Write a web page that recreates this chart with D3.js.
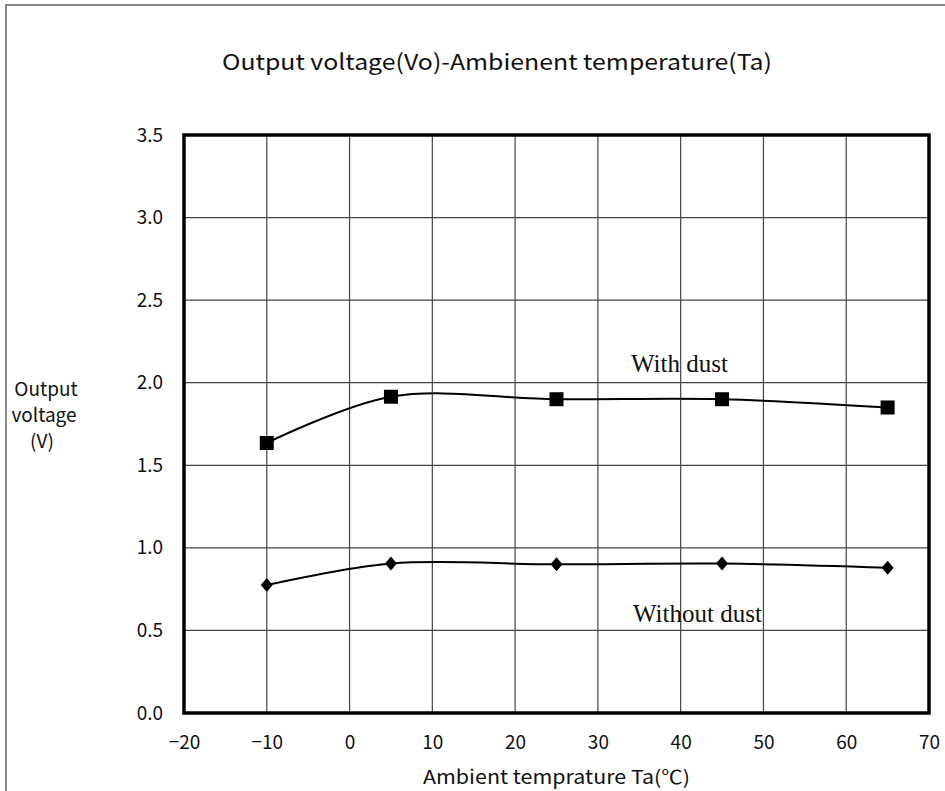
<!DOCTYPE html>
<html><head><meta charset="utf-8">
<script src="https://cdn.jsdelivr.net/npm/d3@7"></script>
<style>body{margin:0;background:#fff}svg{display:block}</style>
</head><body>
<svg id="c" width="945" height="791"></svg>
<script>
const temps = [-10, 5, 25, 45, 65];
const withDust = [1.635, 1.915, 1.90, 1.90, 1.85];
const withoutDust = [0.775, 0.905, 0.90, 0.905, 0.88];
const xTicks = [-20, -10, 0, 10, 20, 30, 40, 50, 60, 70];
const yTicks = [0, 0.5, 1.0, 1.5, 2.0, 2.5, 3.0, 3.5];
const title = "Output voltage(Vo)-Ambienent temperature(Ta)";
const xTitle = "Ambient temprature Ta(\u2103)";
const yTitle = ["Output", "voltage", "(V)"];

const svg = d3.select("#c");
const L = 184, R = 929, T = 135, B = 713;
const x = d3.scaleLinear().domain([-20, 70]).range([L, R]);
const y = d3.scaleLinear().domain([0, 3.5]).range([B, T]);
const font = "'Noto Sans CJK JP', 'DejaVu Sans', sans-serif";
const serif = "'Liberation Serif', 'DejaVu Serif', serif";

// outer frame
svg.append("path").attr("d", `M6,791 V5 H945`).attr("fill", "none").attr("stroke", "#888").attr("stroke-width", 2);

// grid
svg.append("g").selectAll("line").data(xTicks.slice(1, -1)).join("line")
  .attr("x1", d => x(d)).attr("x2", d => x(d)).attr("y1", T).attr("y2", B)
  .attr("stroke", "#444").attr("stroke-width", 1.2);
svg.append("g").selectAll("line").data(yTicks.slice(1, -1)).join("line")
  .attr("x1", L).attr("x2", R).attr("y1", d => y(d)).attr("y2", d => y(d))
  .attr("stroke", "#444").attr("stroke-width", 1.2);

// plot border
svg.append("rect").attr("x", L).attr("y", T).attr("width", R - L).attr("height", B - T)
  .attr("fill", "none").attr("stroke", "#000").attr("stroke-width", 3.5);

// axes labels via d3 axes (no lines)
const xa = svg.append("g").attr("transform", `translate(0,${B})`)
  .call(d3.axisBottom(x).tickValues(xTicks).tickSize(0).tickPadding(23).tickFormat(d => d < 0 ? "\u2212" + Math.abs(d) : d));
xa.select(".domain").remove();
xa.selectAll("text").attr("font-family", font).attr("font-size", 19).attr("fill", "#111");

const ya = svg.append("g").attr("transform", `translate(${L},0)`)
  .call(d3.axisLeft(y).tickValues(yTicks).tickSize(0).tickPadding(21).tickFormat(d3.format(".1f")));
ya.select(".domain").remove();
ya.selectAll("text").attr("font-family", font).attr("font-size", 19).attr("fill", "#111");

// titles
svg.append("text").attr("x", 222).attr("y", 70)
  .attr("textLength", 550).attr("lengthAdjust", "spacingAndGlyphs")
  .attr("font-family", font).attr("font-size", 22).attr("fill", "#111").text(title);
svg.append("text").attr("x", 423).attr("y", 784)
  .attr("textLength", 267).attr("lengthAdjust", "spacingAndGlyphs")
  .attr("font-family", font).attr("font-size", 19).attr("fill", "#111").text(xTitle);
const yCx = [46, 44, 42];
svg.append("g").selectAll("text").data(yTitle).join("text")
  .attr("x", (d, i) => yCx[i]).attr("y", (d, i) => 396 + i * 26).attr("text-anchor", "middle")
  .attr("font-family", font).attr("font-size", 19).attr("fill", "#111").text(d => d);

// lines
const line = d3.line().x(d => x(d[0])).y(d => y(d[1])).curve(d3.curveCatmullRom.alpha(0.5));
const s1 = temps.map((t, i) => [t, withDust[i]]);
const s2 = temps.map((t, i) => [t, withoutDust[i]]);
svg.append("path").attr("d", line(s1)).attr("fill", "none").attr("stroke", "#000").attr("stroke-width", 2);
svg.append("path").attr("d", line(s2)).attr("fill", "none").attr("stroke", "#000").attr("stroke-width", 2);

svg.append("g").selectAll("rect").data(s1).join("rect")
  .attr("x", d => x(d[0]) - 7).attr("y", d => y(d[1]) - 7).attr("width", 14).attr("height", 14).attr("fill", "#000");
svg.append("g").selectAll("path").data(s2).join("path")
  .attr("d", d => `M${x(d[0])},${y(d[1]) - 7}l6,7l-6,7l-6,-7z`).attr("fill", "#000");

// series labels
svg.append("text").attr("x", 631).attr("y", 372).attr("font-family", serif)
  .attr("font-size", 25).attr("fill", "#111").text("With dust");
svg.append("text").attr("x", 633).attr("y", 622).attr("font-family", serif)
  .attr("font-size", 25).attr("fill", "#111").text("Without dust");
</script>
</body></html>
